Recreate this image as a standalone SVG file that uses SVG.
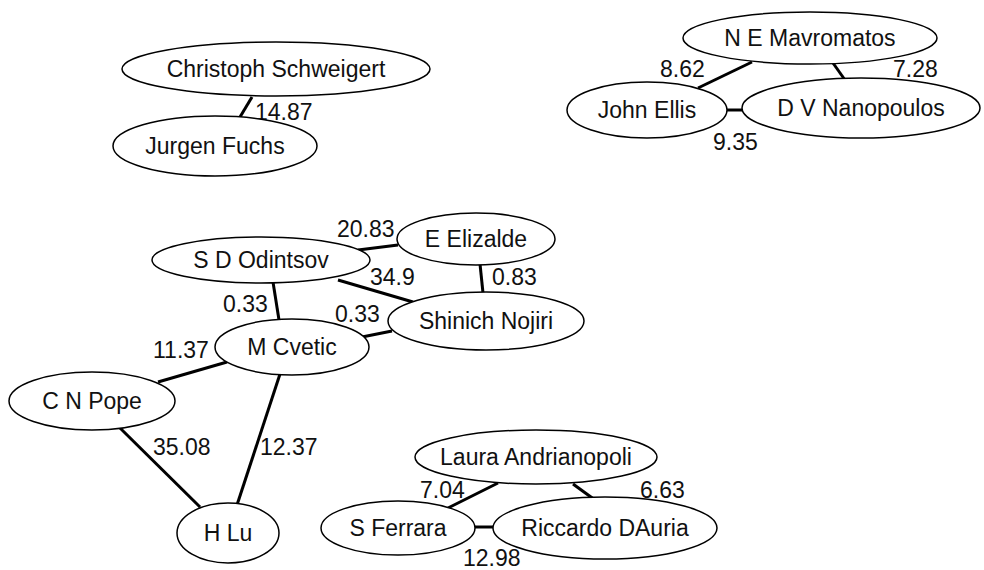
<svg xmlns="http://www.w3.org/2000/svg" width="984" height="570" viewBox="0 0 984 570">
  <style>
    .node ellipse { fill: #ffffff; stroke: #000000; stroke-width: 1.5; }
    .node text { font-family: "Liberation Sans", Arial, sans-serif; font-size: 23px; fill: #111111; text-anchor: middle; }
    #edges line { stroke: #000000; stroke-width: 3; }
    #edges text { font-family: "Liberation Sans", Arial, sans-serif; font-size: 23px; fill: #111111; }
  </style>
  <rect width="984" height="570" fill="#ffffff"/>

  <!-- connectors and their weights -->
  <g id="edges">
    <line x1="240" y1="117" x2="252" y2="97"/>
    <text x="255" y="120">14.87</text>

    <line x1="698" y1="88" x2="752" y2="62"/>
    <text x="660" y="77">8.62</text>
    <line x1="833" y1="63" x2="845" y2="80"/>
    <text x="893" y="77">7.28</text>
    <line x1="727" y1="110" x2="743" y2="110"/>
    <text x="713" y="150">9.35</text>

    <line x1="358" y1="250" x2="398" y2="245"/>
    <text x="337" y="237">20.83</text>
    <line x1="338" y1="280" x2="413" y2="302"/>
    <text x="370" y="285">34.9</text>
    <line x1="480" y1="264" x2="483" y2="293"/>
    <text x="492" y="285">0.83</text>
    <line x1="273" y1="282" x2="279" y2="320"/>
    <text x="223" y="312">0.33</text>
    <line x1="362" y1="337" x2="392" y2="331"/>
    <text x="335" y="322">0.33</text>
    <line x1="158" y1="382" x2="227" y2="362"/>
    <text x="153" y="358">11.37</text>
    <line x1="120" y1="428" x2="200" y2="507"/>
    <text x="153" y="455">35.08</text>
    <line x1="280" y1="374" x2="237" y2="505"/>
    <text x="260" y="455">12.37</text>

    <line x1="448" y1="508" x2="498" y2="483"/>
    <text x="420" y="498">7.04</text>
    <line x1="573" y1="484" x2="595" y2="500"/>
    <text x="640" y="498">6.63</text>
    <line x1="475" y1="527" x2="493" y2="527"/>
    <text x="463" y="566">12.98</text>
  </g>

  <!-- nodes -->
  <g id="christoph-schweigert" class="node">
    <ellipse cx="276" cy="69" rx="154" ry="27"/>
    <text x="276" y="77">Christoph Schweigert</text>
  </g>
  <g id="jurgen-fuchs" class="node">
    <ellipse cx="215" cy="146" rx="102" ry="30"/>
    <text x="215" y="154">Jurgen Fuchs</text>
  </g>

  <g id="ne-mavromatos" class="node">
    <ellipse cx="810" cy="38" rx="127" ry="26"/>
    <text x="810" y="46">N E Mavromatos</text>
  </g>
  <g id="john-ellis" class="node">
    <ellipse cx="647" cy="110" rx="80" ry="28"/>
    <text x="647" y="118">John Ellis</text>
  </g>
  <g id="dv-nanopoulos" class="node">
    <ellipse cx="861" cy="108" rx="119" ry="30"/>
    <text x="861" y="116">D V Nanopoulos</text>
  </g>

  <g id="sd-odintsov" class="node">
    <ellipse cx="261" cy="260" rx="109" ry="23"/>
    <text x="261" y="268">S D Odintsov</text>
  </g>
  <g id="e-elizalde" class="node">
    <ellipse cx="476" cy="239" rx="79" ry="26"/>
    <text x="476" y="247">E Elizalde</text>
  </g>
  <g id="shinich-nojiri" class="node">
    <ellipse cx="486" cy="321" rx="98" ry="29"/>
    <text x="486" y="329">Shinich Nojiri</text>
  </g>
  <g id="m-cvetic" class="node">
    <ellipse cx="292" cy="347" rx="77" ry="28"/>
    <text x="292" y="355">M Cvetic</text>
  </g>
  <g id="cn-pope" class="node">
    <ellipse cx="92" cy="401" rx="83" ry="29"/>
    <text x="92" y="409">C N Pope</text>
  </g>
  <g id="h-lu" class="node">
    <ellipse cx="228" cy="533" rx="51" ry="30"/>
    <text x="228" y="541">H Lu</text>
  </g>

  <g id="laura-andrianopoli" class="node">
    <ellipse cx="536" cy="457" rx="121" ry="27"/>
    <text x="536" y="465">Laura Andrianopoli</text>
  </g>
  <g id="s-ferrara" class="node">
    <ellipse cx="398" cy="528" rx="77" ry="27"/>
    <text x="398" y="536">S Ferrara</text>
  </g>
  <g id="riccardo-dauria" class="node">
    <ellipse cx="605" cy="528" rx="112" ry="31"/>
    <text x="605" y="536">Riccardo DAuria</text>
  </g>
</svg>
